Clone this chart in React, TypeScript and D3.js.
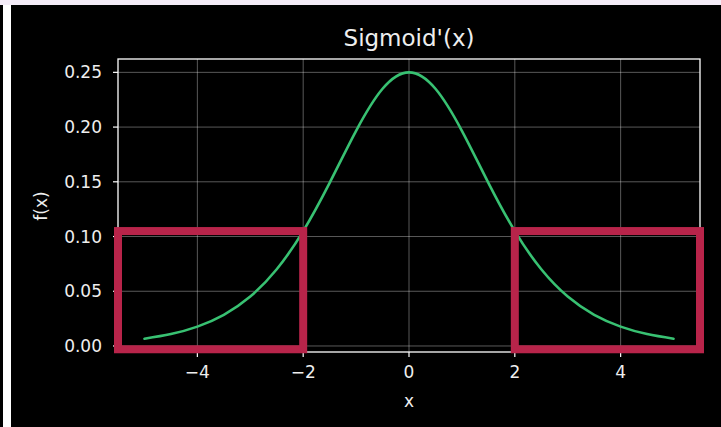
import React from "react";
import * as d3 from "d3";

const xs = [-5, -4.5, -4, -3.5, -3, -2.5, -2, -1.5, -1, -0.5, 0, 0.5, 1, 1.5, 2, 2.5, 3, 3.5, 4, 4.5, 5];
const ys = [0.0066, 0.0109, 0.0177, 0.0285, 0.0452, 0.0701, 0.105, 0.1491, 0.1966, 0.235, 0.25, 0.235, 0.1966, 0.1491, 0.105, 0.0701, 0.0452, 0.0285, 0.0177, 0.0109, 0.0066];

const xTicks = [-4, -2, 0, 2, 4];
const yTicks = [0, 0.05, 0.1, 0.15, 0.2, 0.25];

// Highlighted saturation regions [x0, x1, y0, y1]
const regionX0 = [-5.5, 2];
const regionX1 = [-2, 5.5];
const regionY0 = [-0.003, -0.003];
const regionY1 = [0.105, 0.105];

const W = 721;
const H = 427;
const FONT = "DejaVu Sans, sans-serif";

export default function App() {
  const x = d3.scaleLinear().domain([-5.5, 5.5]).range([118, 700]);
  const y = d3.scaleLinear().domain([-0.0055, 0.2622]).range([352, 59]);

  const pts: [number, number][] = xs.map((v, i) => [v, ys[i]]);
  const line = d3
    .line<[number, number]>()
    .x((d) => x(d[0]))
    .y((d) => y(d[1]))
    .curve(d3.curveNatural);

  const fmtX = (v: number) => (v < 0 ? "\u2212" + Math.abs(v) : String(v));

  return (
    <svg
      width={W}
      height={H}
      style={{ position: "absolute", left: 0, top: 0, display: "block" }}
      fontFamily={FONT}
    >
      <rect x={0} y={0} width={W} height={H} fill="#000" />
      <rect x={0} y={0} width={W} height={5} fill="#f4ecf8" />
      <rect x={3} y={5} width={8} height={H - 5} fill="#ffffff" />

      {/* grid */}
      <g stroke="#ffffff" strokeOpacity={0.35} strokeWidth={1}>
        {xTicks.map((t) => (
          <line key={"gx" + t} x1={x(t)} x2={x(t)} y1={59} y2={352} />
        ))}
        {yTicks.map((t) => (
          <line key={"gy" + t} x1={118} x2={700} y1={y(t)} y2={y(t)} />
        ))}
      </g>

      {/* curve */}
      <path d={line(pts) ?? ""} fill="none" stroke="#38c172" strokeWidth={2.6} strokeLinecap="round" />

      {/* frame */}
      <rect x={118} y={59} width={582} height={293} fill="none" stroke="#ffffff" strokeWidth={1.3} />

      {/* ticks */}
      <g stroke="#ffffff" strokeWidth={1.2}>
        {xTicks.map((t) => (
          <line key={"tx" + t} x1={x(t)} x2={x(t)} y1={352} y2={357} />
        ))}
        {yTicks.map((t) => (
          <line key={"ty" + t} x1={113} x2={118} y1={y(t)} y2={y(t)} />
        ))}
      </g>
      <g fill="#eeeeee" fontSize={17}>
        {xTicks.map((t) => (
          <text key={"lx" + t} x={x(t)} y={378} textAnchor="middle">
            {fmtX(t)}
          </text>
        ))}
        {yTicks.map((t) => (
          <text key={"ly" + t} x={102} y={y(t) + 6} textAnchor="end">
            {t.toFixed(2)}
          </text>
        ))}
        <text x={409} y={407} textAnchor="middle">x</text>
        <text transform="translate(47,206) rotate(-90)" textAnchor="middle">f(x)</text>
      </g>

      {/* title */}
      <text x={409} y={46} textAnchor="middle" fill="#eeeeee" fontSize={23}>
        Sigmoid'(x)
      </text>

      {/* highlight boxes */}
      <g fill="none" stroke="#b8244a" strokeWidth={8}>
        {regionX0.map((v, i) => (
          <rect
            key={"r" + i}
            x={x(v)}
            y={y(regionY1[i])}
            width={x(regionX1[i]) - x(v)}
            height={y(regionY0[i]) - y(regionY1[i])}
          />
        ))}
      </g>
    </svg>
  );
}
